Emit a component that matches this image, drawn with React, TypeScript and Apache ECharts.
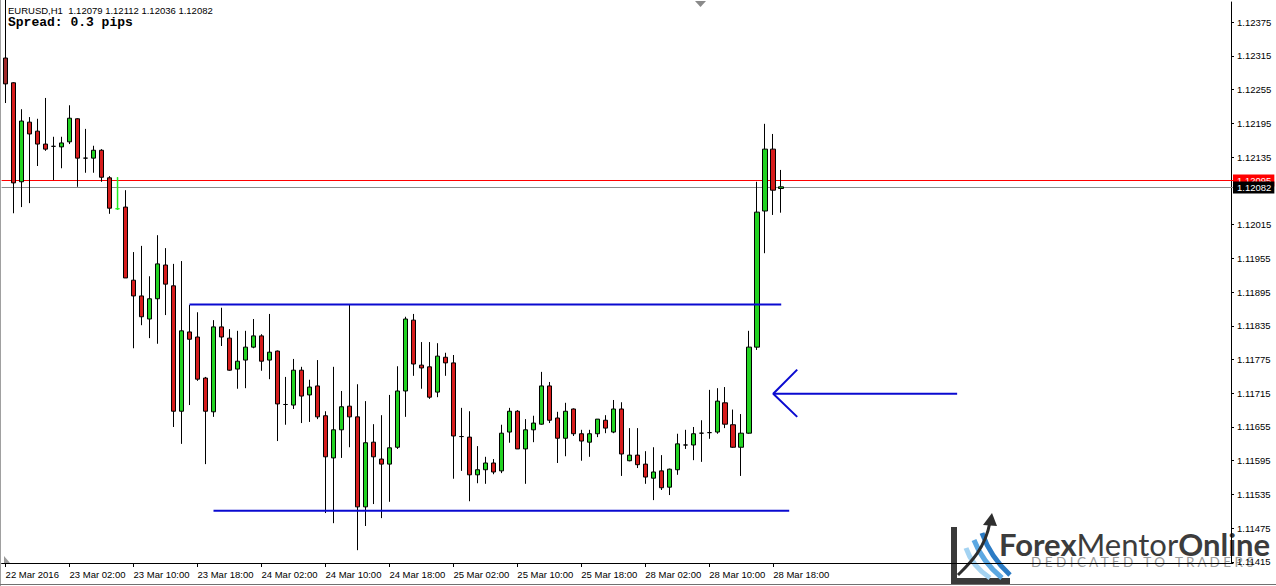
import React, { useEffect, useRef } from "react";
import * as echarts from "echarts";

// ---- data ----
const symbolName = "EURUSD";
const timeframe = "H1";
const spreadText = "Spread: 0.3 pips";
const labelStep = 8;
const slotCount = 154;
const timeLabels = [
  "22 Mar 2016", "23 Mar 02:00", "23 Mar 10:00", "23 Mar 18:00", "24 Mar 02:00",
  "24 Mar 10:00", "24 Mar 18:00", "25 Mar 02:00", "25 Mar 10:00", "25 Mar 18:00",
  "28 Mar 02:00", "28 Mar 10:00", "28 Mar 18:00",
];
const priceTicks = [
  1.11415, 1.11475, 1.11535, 1.11595, 1.11655, 1.11715, 1.11775, 1.11835, 1.11895,
  1.11955, 1.12015, 1.12135, 1.12195, 1.12255, 1.12315, 1.12375,
];
const priceMin = 1.114132;
const priceMax = 1.124106;

const opens = [
  1.12311, 1.12267, 1.12091, 1.12197, 1.12181, 1.12158, 1.12154, 1.12153, 1.12162, 1.12203,
  1.12133, 1.12133, 1.12147, 1.12098, 1.12043, 1.12046, 1.11916, 1.11888, 1.11847, 1.11883,
  1.11943, 1.11906, 1.11683, 1.11824, 1.11815, 1.11742, 1.11682, 1.11833, 1.11813, 1.11758,
  1.11774, 1.11797, 1.11817, 1.11774, 1.11790, 1.11695, 1.11694, 1.11756, 1.11712, 1.11728,
  1.11675, 1.11600, 1.11650, 1.11692, 1.11673, 1.11513, 1.11628, 1.11598, 1.11589, 1.11619,
  1.11719, 1.11845, 1.11765, 1.11762, 1.11717, 1.11779, 1.11769, 1.11638, 1.11637, 1.11570,
  1.11579, 1.11591, 1.11577, 1.11646, 1.11683, 1.11616, 1.11650, 1.11660, 1.11728, 1.11671,
  1.11635, 1.11687, 1.11643, 1.11628, 1.11643, 1.11667, 1.11646, 1.11687, 1.11595, 1.11605,
  1.11589, 1.11564, 1.11577, 1.11548, 1.11579, 1.11623, 1.11623, 1.11644, 1.11645, 1.11646,
  1.11698, 1.11659, 1.11619, 1.11644, 1.11797, 1.12039, 1.12149, 1.12079,
];
const highs = [
  1.12430, 1.12268, 1.12220, 1.12206, 1.12203, 1.12240, 1.12171, 1.12171, 1.12227, 1.12204,
  1.12185, 1.12155, 1.12149, 1.12101, 1.12099, 1.12076, 1.11966, 1.11977, 1.11923, 1.11996,
  1.11973, 1.11945, 1.11950, 1.11872, 1.11859, 1.11744, 1.11845, 1.11867, 1.11829, 1.11826,
  1.11826, 1.11847, 1.11820, 1.11856, 1.11791, 1.11744, 1.11776, 1.11762, 1.11739, 1.11774,
  1.11683, 1.11762, 1.11719, 1.11872, 1.11731, 1.11701, 1.11660, 1.11676, 1.11712, 1.11763,
  1.11851, 1.11856, 1.11806, 1.11806, 1.11804, 1.11787, 1.11783, 1.11689, 1.11683, 1.11621,
  1.11602, 1.11598, 1.11659, 1.11689, 1.11685, 1.11669, 1.11675, 1.11753, 1.11735, 1.11682,
  1.11698, 1.11688, 1.11650, 1.11650, 1.11669, 1.11676, 1.11703, 1.11699, 1.11653, 1.11653,
  1.11612, 1.11619, 1.11605, 1.11581, 1.11643, 1.11650, 1.11655, 1.11667, 1.11721, 1.11724,
  1.11726, 1.11686, 1.11678, 1.11826, 1.12091, 1.12194, 1.12176, 1.12112,
];
const lows = [
  1.12231, 1.12035, 1.12046, 1.12053, 1.12119, 1.12146, 1.12094, 1.12115, 1.12158, 1.12082,
  1.12107, 1.12107, 1.12091, 1.12034, 1.12041, 1.11920, 1.11795, 1.11836, 1.11813, 1.11803,
  1.11854, 1.11655, 1.11625, 1.11694, 1.11737, 1.11589, 1.11673, 1.11799, 1.11755, 1.11723,
  1.11724, 1.11795, 1.11755, 1.11740, 1.11630, 1.11659, 1.11687, 1.11662, 1.11664, 1.11669,
  1.11502, 1.11484, 1.11600, 1.11619, 1.11436, 1.11479, 1.11518, 1.11493, 1.11522, 1.11616,
  1.11673, 1.11746, 1.11723, 1.11705, 1.11708, 1.11746, 1.11563, 1.11577, 1.11523, 1.11555,
  1.11554, 1.11571, 1.11573, 1.11627, 1.11616, 1.11554, 1.11628, 1.11659, 1.11662, 1.11591,
  1.11603, 1.11639, 1.11595, 1.11602, 1.11637, 1.11644, 1.11644, 1.11568, 1.11594, 1.11582,
  1.11554, 1.11525, 1.11543, 1.11534, 1.11570, 1.11616, 1.11596, 1.11593, 1.11634, 1.11643,
  1.11653, 1.11618, 1.11568, 1.11643, 1.11792, 1.11964, 1.12032, 1.12036,
];
const closes = [
  1.12265, 1.12089, 1.12199, 1.12176, 1.12158, 1.12149, 1.12154, 1.12160, 1.12204, 1.12133,
  1.12133, 1.12147, 1.12099, 1.12044, 1.12043, 1.11920, 1.11888, 1.11851, 1.11883, 1.11945,
  1.11909, 1.11683, 1.11826, 1.11811, 1.11740, 1.11683, 1.11833, 1.11815, 1.11756, 1.11772,
  1.11797, 1.11817, 1.11772, 1.11788, 1.11696, 1.11695, 1.11756, 1.11710, 1.11726, 1.11673,
  1.11602, 1.11650, 1.11691, 1.11673, 1.11513, 1.11627, 1.11602, 1.11589, 1.11618, 1.11719,
  1.11847, 1.11767, 1.11760, 1.11708, 1.11781, 1.11769, 1.11639, 1.11638, 1.11570, 1.11579,
  1.11591, 1.11575, 1.11644, 1.11683, 1.11616, 1.11650, 1.11662, 1.11728, 1.11667, 1.11635,
  1.11683, 1.11643, 1.11630, 1.11643, 1.11669, 1.11653, 1.11687, 1.11607, 1.11605, 1.11588,
  1.11566, 1.11575, 1.11547, 1.11580, 1.11625, 1.11623, 1.11643, 1.11644, 1.11645, 1.11701,
  1.11660, 1.11619, 1.11644, 1.11797, 1.12037, 1.12149, 1.12076, 1.12082,
];
const markerBarIndex = 14; // green marker bar
const askPrice = 1.12095;
const bidPrice = 1.12082;
const resistanceLevel = 1.11873;
const resistanceRange = [23, 97];
const supportLevel = 1.11506;
const supportRange = [26, 98];
const arrowTip = [96, 1.11714];
const arrowTail = [119, 1.11714];
const arrowUpper = [99, 1.11757];
const arrowLower = [99, 1.11673];

const UP = "#22d322";
const DOWN = "#d61c1c";
const MARKER = "#22ee22";
const BLUE = "#0a0ad0";
const ASK_COLOR = "#ff0000";
const BID_COLOR = "#8c8c8c";
const AXIS_FONT = "Liberation Sans";

const GRID_LEFT = 1.6;
const GRID_RIGHT_EDGE = 1233;

export default function App() {
  const ref = useRef<HTMLDivElement>(null);
  useEffect(() => {
    if (!ref.current) return;
    const chart = echarts.init(ref.current, undefined, { renderer: "svg" });

    const categories = Array.from({ length: slotCount }, (_, i) =>
      i % labelStep === 0 && i / labelStep < timeLabels.length ? timeLabels[i / labelStep] : ""
    );
    const candleData = opens.map((o, i) => {
      const v = [o, closes[i], lows[i], highs[i]];
      if (i === markerBarIndex) {
        return {
          value: v,
          itemStyle: { color: MARKER, color0: MARKER, borderColor: MARKER, borderColor0: MARKER },
        };
      }
      if (i === 0) {
        return { value: v, itemStyle: { color0: "#a02a2a" } };
      }
      return v;
    });
    const last = opens.length - 1;
    const header = `${symbolName},${timeframe}\u00a0\u00a0${opens[last].toFixed(5)} ${highs[last].toFixed(5)} ${lows[last].toFixed(5)} ${closes[last].toFixed(5)}`;

    const option: any = {
      animation: false,
      backgroundColor: "#ffffff",
      grid: { left: GRID_LEFT, right: 1276 - GRID_RIGHT_EDGE, top: 2, height: 561, containLabel: false },
      xAxis: {
        type: "category",
        data: categories,
        boundaryGap: true,
        axisLine: { show: true, lineStyle: { color: "#000", width: 1 } },
        axisTick: {
          show: true,
          alignWithLabel: true,
          interval: (_i: number, v: string) => v !== "",
          length: 4,
          lineStyle: { color: "#000" },
        },
        axisLabel: {
          interval: (_i: number, v: string) => v !== "",
          align: "left",
          margin: 6,
          fontSize: 9.5,
          fontFamily: AXIS_FONT,
          color: "#000",
        },
        splitLine: { show: false },
      },
      yAxis: {
        type: "value",
        position: "right",
        offset: -2,
        min: priceMin,
        max: priceMax,
        axisLine: { show: true, lineStyle: { color: "#000", width: 1 } },
        axisTick: { show: true, length: 3, customValues: priceTicks, lineStyle: { color: "#000" } },
        axisLabel: {
          customValues: priceTicks,
          formatter: (v: number) => v.toFixed(5),
          margin: 6,
          fontSize: 9.5,
          fontFamily: AXIS_FONT,
          color: "#000",
        },
        splitLine: { show: false },
      },
      series: [
        {
          type: "candlestick",
          data: candleData,
          barWidth: 5,
          clip: true,
          z: 3,
          itemStyle: {
            color: UP,
            color0: DOWN,
            borderColor: "#000",
            borderColor0: "#000",
            borderWidth: 1,
          },
        },
        {
          type: "line", symbol: "none", silent: true, z: 4,
          data: [[markerBarIndex, highs[markerBarIndex]], [markerBarIndex, lows[markerBarIndex]]],
          lineStyle: { color: MARKER, width: 1.5 },
        },
        {
          type: "line", symbol: "none", silent: true, z: 5,
          data: [[resistanceRange[0], resistanceLevel], [resistanceRange[1], resistanceLevel]],
          lineStyle: { color: BLUE, width: 2 },
        },
        {
          type: "line", symbol: "none", silent: true, z: 5,
          data: [[supportRange[0], supportLevel], [supportRange[1], supportLevel]],
          lineStyle: { color: BLUE, width: 2 },
        },
        {
          type: "line", symbol: "none", silent: true, z: 5,
          data: [arrowUpper, arrowTip, arrowLower],
          lineStyle: { color: BLUE, width: 2 },
        },
        {
          type: "line", symbol: "none", silent: true, z: 5,
          data: [arrowTip, arrowTail],
          lineStyle: { color: BLUE, width: 2 },
        },
      ],
      graphic: {
        elements: [
          { type: "line", shape: { x1: 0.5, y1: 0, x2: 0.5, y2: 586 }, style: { stroke: "#a0a0a0", lineWidth: 1 } },
          { type: "line", shape: { x1: 0, y1: 584.5, x2: 1276, y2: 584.5 }, style: { stroke: "#707070", lineWidth: 1 } },
          { type: "polygon", shape: { points: [[695, 1], [706, 1], [700.5, 7]] }, style: { fill: "#8a8a8a" } },
          { type: "polygon", shape: { points: [[4, 556], [4, 563], [10, 563]] }, style: { fill: "#9a9a9a" } },
          {
            type: "text", x: 8, y: 10,
            style: { text: header, fontSize: 9.5, fontFamily: AXIS_FONT, fill: "#000", verticalAlign: "middle" },
          },
          {
            type: "text", x: 8, y: 22,
            style: { text: spreadText, fontSize: 13, fontWeight: "bold", fontFamily: "Liberation Mono", fill: "#000", verticalAlign: "middle" },
          },
          // logo icon
          { type: "polyline", shape: { points: [[954, 527], [954, 581], [1010, 581]] }, style: { stroke: "#3a3a3a", lineWidth: 6, fill: null } },
          { type: "bezierCurve", shape: { x1: 966, y1: 548, cpx1: 970, cpy1: 560, cpx2: 978, cpy2: 570, x2: 990, y2: 578 }, style: { stroke: "#a4d3f2", lineWidth: 5, fill: null } },
          { type: "bezierCurve", shape: { x1: 974, y1: 540, cpx1: 980, cpy1: 556, cpx2: 990, cpy2: 568, x2: 1002, y2: 578 }, style: { stroke: "#5ca8e2", lineWidth: 5, fill: null } },
          { type: "bezierCurve", shape: { x1: 982, y1: 533, cpx1: 988, cpy1: 550, cpx2: 998, cpy2: 564, x2: 1010, y2: 575 }, style: { stroke: "#2b7bc4", lineWidth: 5, fill: null } },
          { type: "bezierCurve", shape: { x1: 958, y1: 575, cpx1: 968, cpy1: 565, cpx2: 985, cpy2: 550, x2: 990, y2: 522 }, style: { stroke: "#2e2e2e", lineWidth: 3, fill: null } },
          { type: "polygon", shape: { points: [[992, 513], [983, 525], [997, 526]] }, style: { fill: "#2e2e2e" } },
          {
            type: "text", x: 999, y: 544,
            style: {
              text: "{a|Forex}{b|Mentor}{a|Online}",
              verticalAlign: "middle",
              rich: {
                a: { fontFamily: "Lato", fontWeight: "bold", fontSize: 31, lineHeight: 22, fill: "#3c3c3c", color: "#3c3c3c" },
                b: { fontFamily: "Lato", fontWeight: "normal", fontSize: 31, lineHeight: 22, fill: "#3c3c3c", color: "#3c3c3c" },
              },
            },
          },
          {
            type: "text", x: 1031, y: 562,
            style: {
              text: "D E D I C A T E D\u00a0\u00a0\u00a0T O\u00a0\u00a0\u00a0T R A D E R S",
              fontSize: 13.5, lineHeight: 10, fontFamily: "Lato", fill: "#9d9d9d", verticalAlign: "middle",
            },
          },
        ],
      },
    };
    chart.setOption(option);

    // ask / bid price lines, positioned through the y axis scale
    const priceLine = (id: string, value: number, lineColor: string, boxColor: string, z: number) => {
      const y = Math.round(chart.convertToPixel({ yAxisIndex: 0 }, value) as number) + 0.5;
      return [
        {
          id: id + "-line", type: "line", z: 1,
          shape: { x1: GRID_LEFT, y1: y, x2: GRID_RIGHT_EDGE, y2: y },
          style: { stroke: lineColor, lineWidth: 1 },
        },
        {
          id: id + "-box", type: "text", z,
          x: GRID_RIGHT_EDGE, y,
          style: {
            text: value.toFixed(5),
            fill: "#fff",
            backgroundColor: boxColor,
            padding: [1, 3, 1, 4],
            fontSize: 9.5,
            fontFamily: AXIS_FONT,
            verticalAlign: "middle",
          },
        },
      ];
    };
    chart.setOption({
      graphic: {
        elements: [
          ...priceLine("ask", askPrice, ASK_COLOR, ASK_COLOR, 20),
          ...priceLine("bid", bidPrice, BID_COLOR, "#000000", 21),
        ],
      },
    });
    return () => chart.dispose();
  }, []);
  return (
    <div
      ref={ref}
      style={{ position: "fixed", left: 0, top: 0, width: 1276, height: 586, background: "#fff" }}
    />
  );
}
